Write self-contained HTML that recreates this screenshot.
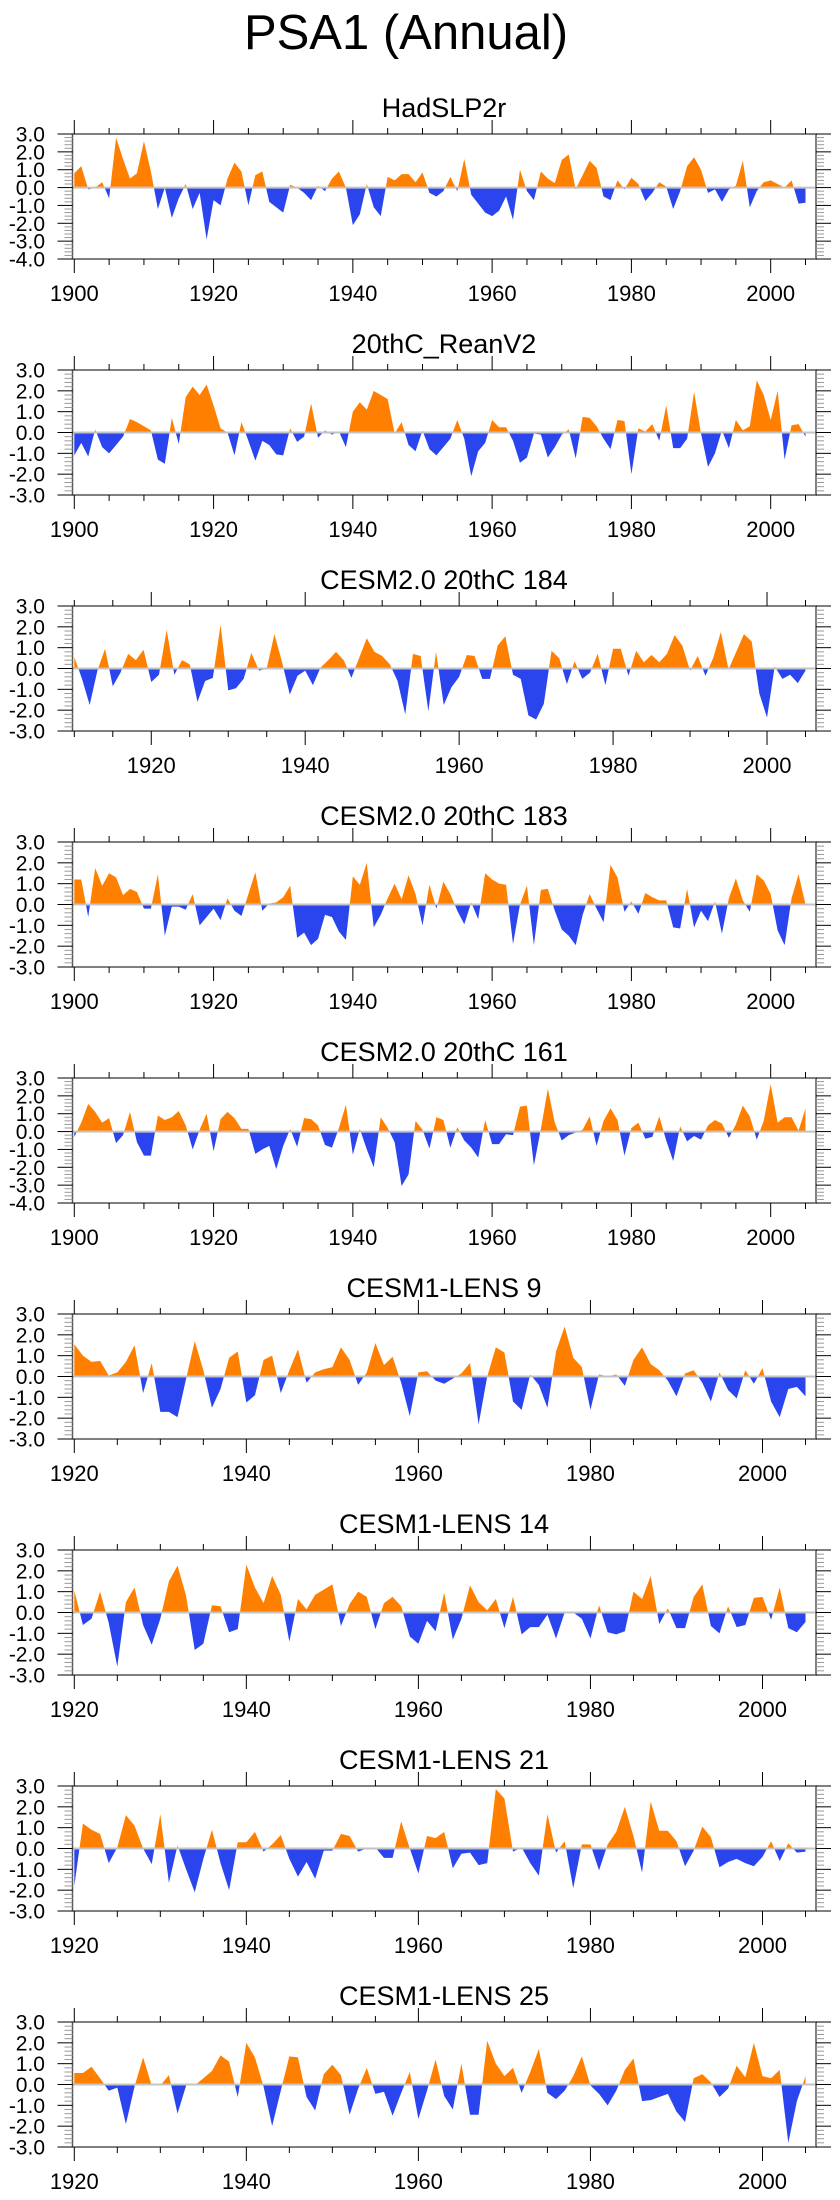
<!DOCTYPE html>
<html><head><meta charset="utf-8"><style>
html,body{margin:0;padding:0;background:#fff;}
svg{display:block;font-family:"Liberation Sans",Arial,sans-serif;}
</style></head><body>
<svg id="fig" width="840" height="2200" viewBox="0 0 840 2200" xmlns="http://www.w3.org/2000/svg">
<text x="406" y="49" text-anchor="middle" font-size="49">PSA1 (Annual)</text>
</svg>
<script>
const titles = ["HadSLP2r","20thC_ReanV2","CESM2.0 20thC 184","CESM2.0 20thC 183","CESM2.0 20thC 161","CESM1-LENS 9","CESM1-LENS 14","CESM1-LENS 21","CESM1-LENS 25"];
const startYears = [1900,1900,1910,1900,1900,1920,1920,1920,1920];
const yMins = [-4,-3,-3,-3,-4,-3,-3,-3,-3];
const yMax = 3;
const s1 = [0.8,1.2,-0.1,0.0,0.3,-0.6,2.8,1.6,0.5,0.8,2.6,0.9,-1.2,0.0,-1.7,-0.6,0.2,-1.2,-0.3,-2.9,-0.7,-1.0,0.5,1.4,0.9,-1.0,0.7,0.9,-0.8,-1.1,-1.4,0.15,0.0,-0.3,-0.7,0.1,-0.2,0.5,0.9,0.0,-2.1,-1.5,0.2,-1.1,-1.6,0.6,0.4,0.75,0.75,0.3,0.85,-0.3,-0.5,-0.2,0.6,-0.2,1.6,-0.4,-0.9,-1.4,-1.6,-1.3,-0.5,-1.8,1.0,-0.2,-0.7,0.9,0.5,0.25,1.55,1.85,-0.1,0.7,1.5,1.1,-0.5,-0.7,0.4,-0.1,0.55,0.2,-0.75,-0.3,0.3,0.05,-1.2,-0.2,1.2,1.7,1.0,-0.3,-0.1,-0.8,-0.1,0.1,1.5,-1.1,-0.2,0.3,0.4,0.2,0.0,0.4,-0.9,-0.85];
const s2 = [-1.1,-0.5,-1.15,0.15,-0.7,-1.0,-0.6,-0.2,0.65,0.5,0.3,0.1,-1.3,-1.5,0.7,-0.55,1.7,2.2,1.8,2.3,1.3,0.2,0.0,-1.1,0.5,-0.4,-1.35,-0.4,-0.6,-1.05,-1.1,0.2,-0.45,-0.2,1.4,-0.25,0.1,-0.1,0.05,-0.7,1.0,1.45,1.1,2.0,1.8,1.6,-0.05,0.5,-0.6,-0.9,0.1,-0.8,-1.1,-0.7,-0.3,0.6,-0.3,-2.1,-0.9,-0.5,0.6,0.25,0.25,-0.4,-1.45,-1.2,-0.05,-0.1,-1.2,-0.7,-0.1,0.15,-1.25,0.75,0.7,0.3,-0.3,-0.8,0.6,0.55,-2.0,0.2,0.05,0.4,-0.4,1.3,-0.75,-0.75,-0.3,1.95,-0.05,-1.65,-1.0,0.1,-0.75,0.6,0.1,0.3,2.5,1.8,0.6,2.0,-1.3,0.35,0.4,-0.2];
const s3 = [0.55,-0.5,-1.75,-0.1,0.95,-0.85,-0.2,0.7,0.4,0.9,-0.65,-0.3,1.85,-0.3,0.4,0.2,-1.6,-0.6,-0.45,2.1,-1.05,-0.95,-0.5,0.75,-0.1,0.0,1.65,0.3,-1.25,-0.35,-0.1,-0.8,0.05,0.4,0.8,0.4,-0.45,0.5,1.45,0.8,0.6,0.2,-0.6,-2.2,0.7,0.6,-2.05,0.8,-1.75,-0.9,-0.4,0.65,0.6,-0.5,-0.5,1.1,1.55,-0.3,-0.5,-2.25,-2.45,-1.7,0.85,0.5,-0.75,0.35,-0.5,-0.2,0.7,-0.8,0.95,0.95,-0.35,0.85,0.3,0.65,0.3,0.7,1.6,1.1,-0.1,0.6,-0.35,0.5,1.75,-0.05,0.8,1.65,1.3,-1.2,-2.35,0.1,-0.5,-0.3,-0.7,-0.1];
const s4 = [1.2,1.2,-0.6,1.75,0.9,1.5,1.3,0.45,0.75,0.6,-0.2,-0.2,1.45,-1.5,-0.1,-0.1,-0.25,0.5,-1.0,-0.6,-0.2,-0.75,0.3,-0.3,-0.55,0.5,1.55,-0.3,0.05,0.1,0.35,0.9,-1.6,-1.35,-1.95,-1.65,-0.5,-0.6,-1.3,-1.7,1.35,0.95,2.0,-1.1,-0.5,0.3,1.0,0.25,1.4,0.5,-1.0,0.95,-0.2,1.1,0.5,-0.3,-0.95,0.1,-0.7,1.5,1.2,1.0,0.95,-1.9,0.0,0.9,-1.95,0.7,0.75,-0.3,-1.2,-1.5,-1.95,-0.5,0.5,-0.2,-0.85,1.9,1.3,-0.35,0.15,-0.45,0.55,0.35,0.2,0.2,-1.1,-1.15,0.75,-1.1,-0.3,-0.8,0.15,-1.4,0.3,1.25,0.2,-0.35,1.45,1.15,0.5,-1.25,-1.95,0.3,1.45,0.0];
const s5 = [-0.3,0.5,1.55,1.1,0.5,0.75,-0.65,-0.2,1.1,-0.6,-1.35,-1.35,0.9,0.65,0.8,1.15,0.35,-1.0,0.1,1.0,-1.1,0.7,1.1,0.75,0.15,0.15,-1.25,-1.0,-0.8,-2.1,-0.8,0.15,-0.85,0.75,0.7,0.35,-0.75,-0.9,0.2,1.5,-1.3,0.15,-1.0,-2.0,0.8,0.2,-0.6,-3.05,-2.4,0.6,0.1,-0.95,0.8,0.65,-0.9,0.25,-0.5,-0.9,-1.45,0.65,-0.7,-0.7,-0.15,-0.2,1.4,1.45,-1.9,0.15,2.4,0.5,-0.5,-0.2,-0.05,0.1,0.85,-0.8,0.6,1.3,0.65,-1.35,0.2,0.5,-0.4,-0.3,0.85,-0.5,-1.65,0.3,-0.55,-0.25,-0.45,0.35,0.65,0.45,-0.35,0.4,1.45,0.85,-0.45,0.6,2.65,0.5,0.8,0.8,0.05,1.3];
const s6 = [1.55,1.0,0.7,0.75,0.05,0.2,0.7,1.5,-0.8,0.65,-1.7,-1.7,-1.95,-0.1,1.7,0.3,-1.5,-0.6,0.9,1.2,-1.25,-0.9,0.8,1.0,-0.8,0.3,1.3,-0.3,0.2,0.35,0.45,1.4,0.8,-0.4,0.2,1.6,0.55,0.95,-0.3,-1.9,0.2,0.25,-0.2,-0.35,-0.1,0.15,0.65,-2.3,0.0,1.4,1.15,-1.2,-1.6,0.1,-0.4,-1.5,1.2,2.4,0.9,0.45,-1.6,0.1,0.0,0.1,-0.45,0.8,1.4,0.6,0.3,-0.2,-0.95,0.15,0.3,-0.3,-1.2,0.2,-0.65,-1.05,0.3,-0.35,0.4,-1.2,-1.95,-0.6,-0.5,-0.95];
const s7 = [1.05,-0.6,-0.3,1.0,-0.5,-2.6,0.5,1.2,-0.6,-1.55,-0.3,1.5,2.25,0.8,-1.8,-1.5,0.35,0.3,-0.95,-0.8,2.3,1.2,0.45,1.75,0.85,-1.4,0.65,0.15,0.85,1.1,1.35,-0.65,0.4,1.0,0.75,-0.8,0.45,0.75,0.3,-1.15,-1.5,-0.4,-0.9,0.95,-1.3,-0.3,1.3,0.5,0.1,0.65,-0.75,0.75,-1.05,-0.7,-0.7,-0.1,-1.25,0.0,0.0,-0.3,-1.25,0.35,-0.95,-1.05,-0.9,1.0,0.65,1.75,-0.55,0.2,-0.75,-0.75,0.75,1.35,-0.65,-1.0,0.3,-0.7,-0.6,0.7,0.75,-0.35,1.2,-0.75,-0.95,-0.45];
const s8 = [-1.8,1.2,0.9,0.7,-0.7,0.05,1.6,1.1,0.0,-0.75,1.65,-1.65,0.15,-1.0,-2.1,-0.5,0.9,-0.7,-2.0,0.3,0.3,0.8,-0.15,0.2,0.65,-0.5,-1.35,-0.65,-1.45,-0.1,-0.1,0.7,0.6,-0.15,0.0,0.05,-0.45,-0.45,1.3,0.0,-1.2,0.6,0.5,0.8,-0.95,-0.25,-0.2,-0.8,-0.7,2.85,2.4,-0.15,0.05,-0.7,-1.3,1.65,-0.2,0.35,-1.9,0.2,0.2,-1.05,0.2,0.8,2.0,0.6,-1.15,2.25,0.85,0.85,0.35,-0.85,-0.1,1.05,0.55,-0.9,-0.65,-0.5,-0.7,-0.85,-0.4,0.35,-0.6,0.25,-0.2,-0.15];
const s9 = [0.55,0.55,0.85,0.3,-0.3,-0.15,-1.9,-0.1,1.3,-0.05,-0.05,0.45,-1.4,-0.05,-0.05,0.3,0.65,1.4,1.1,-0.6,2.0,1.3,-0.1,-2.0,-0.3,1.35,1.3,-0.6,-1.25,0.5,0.95,0.45,-1.45,-0.2,0.8,-0.45,-0.35,-1.5,-0.4,0.6,-1.65,-0.3,1.2,-0.55,-1.2,1.0,-1.45,-1.45,2.1,1.0,0.4,0.8,-0.4,0.6,1.7,-0.4,-0.7,-0.3,0.4,1.35,-0.05,-0.45,-1.0,-0.3,0.7,1.25,-0.8,-0.75,-0.6,-0.45,-1.3,-1.8,0.3,0.5,0.1,-0.6,-0.2,0.9,0.35,2.0,0.4,0.3,0.7,-2.8,-0.8,0.4];
const series = [s1,s2,s3,s4,s5,s6,s7,s8,s9];
const endYear = 2005;

const NS = "http://www.w3.org/2000/svg";
const svg = document.getElementById('fig');
function mk(tag, attrs, parent){
  const e = document.createElementNS(NS, tag);
  for (const k in attrs) e.setAttribute(k, attrs[k]);
  (parent||svg).appendChild(e);
  return e;
}
const FL = 72.5, FR = 816, X0 = 74.3, X1 = 805.5, FH = 125, TOP0 = 134, STEP = 236;

series.forEach((vals, p) => {
  const top = TOP0 + STEP * p, bot = top + FH;
  const s0 = startYears[p], ymin = yMins[p];
  const xS = yr => X0 + (yr - s0) * (X1 - X0) / (endYear - s0);
  const yS = v => top + (yMax - v) * FH / (yMax - ymin);
  const g = mk('g', {});
  
  

  const t = mk('text', {x: 444, y: top - 17, 'text-anchor': 'middle', 'font-size': 27}, g);
  t.textContent = titles[p];
  
  

  const z = yS(0);
  const cpA = mk('clipPath', {id: 'ca' + p}, g);
  mk('rect', {x: FL, y: top, width: FR - FL, height: z - top}, cpA);
  const cpB = mk('clipPath', {id: 'cb' + p}, g);
  mk('rect', {x: FL, y: z, width: FR - FL, height: bot - z}, cpB);
  let d = 'M' + xS(s0).toFixed(2) + ',' + z.toFixed(2);
  vals.forEach((v, i) => { d += ' L' + xS(s0 + i).toFixed(2) + ',' + yS(v).toFixed(2); });
  d += ' L' + xS(s0 + vals.length - 1).toFixed(2) + ',' + z.toFixed(2) + ' Z';
  const pa = mk('path', {d: d, fill: '#ff8000', 'clip-path': 'url(#ca' + p + ')'}, g);
  
  
  const pb = mk('path', {d: d, fill: '#2a44ee', 'clip-path': 'url(#cb' + p + ')'}, g);
  
  

  const zl = mk('line', {x1: FL, x2: FR, y1: z, y2: z, stroke: '#c4c4c4', 'stroke-width': 2}, g);
  
  

  const fr = mk('rect', {x: FL, y: top, width: FR - FL, height: FH, fill: 'none', stroke: '#555', 'stroke-width': 1.5}, g);
  
  

  for (let k = Math.round(ymin * 5); k <= yMax * 5; k++) {
    const v = k / 5, yy = yS(v);
    if (k % 5 === 0) {
      mk('line', {x1: FL - 15, x2: FL, y1: yy, y2: yy, stroke: '#000', 'stroke-width': 1}, g);
      mk('line', {x1: FR, x2: FR + 15, y1: yy, y2: yy, stroke: '#000', 'stroke-width': 1}, g);
      const lb = mk('text', {x: 45, y: yy + 7.5, 'text-anchor': 'end', 'font-size': 21}, g);
      lb.textContent = v.toFixed(1);
      
      
    } else {
      mk('line', {x1: FL - 8, x2: FL, y1: yy, y2: yy, stroke: '#999', 'stroke-width': 1}, g);
      mk('line', {x1: FR, x2: FR + 8, y1: yy, y2: yy, stroke: '#999', 'stroke-width': 1}, g);
    }
  }
  for (let yr = Math.ceil(s0 / 5) * 5; yr <= endYear; yr += 5) {
    const xx = xS(yr), major = yr % 20 === 0, L = major ? 14 : 6;
    mk('line', {x1: xx, x2: xx, y1: bot, y2: bot + L, stroke: '#000', 'stroke-width': 1}, g);
    mk('line', {x1: xx, x2: xx, y1: top, y2: top - L, stroke: '#000', 'stroke-width': 1}, g);
    if (major) {
      const lb = mk('text', {x: xx, y: bot + 42, 'text-anchor': 'middle', 'font-size': 22}, g);
      lb.textContent = yr;
      
      
    }
  }
});
</script>
</body></html>
